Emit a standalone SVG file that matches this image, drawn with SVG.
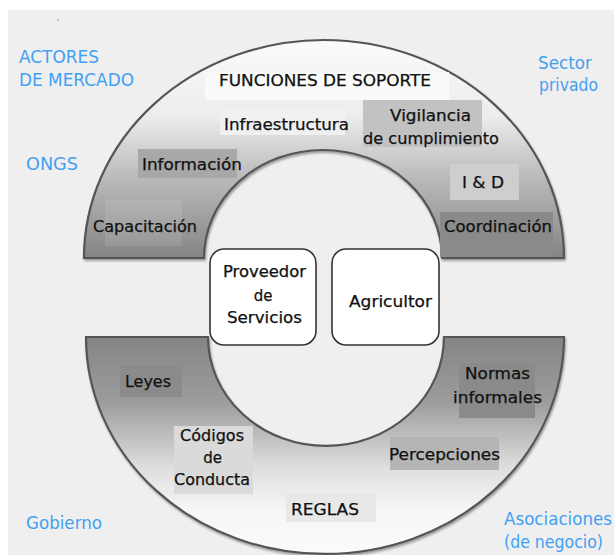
<svg xmlns="http://www.w3.org/2000/svg" width="614" height="555" viewBox="0 0 614 555">
<defs>
<linearGradient id="gTop" x1="0" y1="40" x2="0" y2="258" gradientUnits="userSpaceOnUse">
<stop offset="0" stop-color="#fbfbfb"/>
<stop offset="0.35" stop-color="#ececec"/>
<stop offset="0.62" stop-color="#bcbcbc"/>
<stop offset="1" stop-color="#848484"/>
</linearGradient>
<linearGradient id="gBot" x1="0" y1="337" x2="0" y2="554" gradientUnits="userSpaceOnUse">
<stop offset="0" stop-color="#858585"/>
<stop offset="0.3" stop-color="#9c9c9c"/>
<stop offset="0.6" stop-color="#dedede"/>
<stop offset="0.8" stop-color="#f6f6f6"/>
<stop offset="1" stop-color="#fbfbfb"/>
</linearGradient>
<filter id="sh" x="-10%" y="-10%" width="120%" height="120%">
<feDropShadow dx="1" dy="2" stdDeviation="1.2" flood-color="#000" flood-opacity="0.35"/>
</filter>
</defs>
<style>
.ring{stroke:#555;stroke-width:2.2;filter:url(#sh)}
.box{fill:#fff;stroke:#333;stroke-width:1.6}
.t{font-family:"DejaVu Sans","Liberation Sans",sans-serif;font-size:15px;fill:#111;stroke:#111;stroke-width:0.25;text-anchor:middle}
.b{font-family:"DejaVu Sans","Liberation Sans",sans-serif;font-size:17px;fill:#42a0f2}
</style>
<rect x="8" y="10" width="606" height="545" fill="#efefef"/>
<circle cx="58" cy="20" r="0.8" fill="#777"/>

<g id="funciones-soporte">
<path class="ring" fill="url(#gTop)" d="M 84 258 A 240 218 0 0 1 564 258 L 442 258 A 119 108 0 0 0 204 258 Z"/>
<rect x="205" y="72" width="244" height="28" fill="#fafafa"/>
<text class="t" x="325" y="86" textLength="212" lengthAdjust="spacingAndGlyphs">FUNCIONES DE SOPORTE</text>
</g>
<g id="infraestructura">
<rect x="220" y="108" width="125" height="27" fill="#f0f0f0"/>
<text class="t" x="286.5" y="130" textLength="125" lengthAdjust="spacingAndGlyphs">Infraestructura</text>
</g>
<g id="vigilancia">
<rect x="363" y="100" width="119" height="47" fill="#c2c2c2"/>
<text class="t" x="430.5" y="121" textLength="81" lengthAdjust="spacingAndGlyphs">Vigilancia</text>
<text class="t" x="431" y="144" textLength="136" lengthAdjust="spacingAndGlyphs">de cumplimiento</text>
</g>
<g id="informacion">
<rect x="138" y="149" width="99" height="29" fill="#a8a8a8"/>
<text class="t" x="192" y="170" textLength="100" lengthAdjust="spacingAndGlyphs">Información</text>
</g>
<g id="id">
<rect x="450" y="164" width="69" height="36" fill="#cecece"/>
<text class="t" x="483" y="188" textLength="42" lengthAdjust="spacingAndGlyphs">I &amp; D</text>
</g>
<g id="capacitacion">
<rect x="105" y="200" width="77" height="46" fill="#ffffff" fill-opacity="0.1"/>
<text class="t" x="145" y="232" textLength="104" lengthAdjust="spacingAndGlyphs">Capacitación</text>
</g>
<g id="coordinacion">
<rect x="440" y="212" width="113" height="45" fill="#8a8a8a"/>
<text class="t" x="498" y="232" textLength="108" lengthAdjust="spacingAndGlyphs">Coordinación</text>
</g>

<g id="reglas">
<path class="ring" fill="url(#gBot)" d="M 86 337 L 208 337 A 118 109 0 0 0 444 337 L 564 337 A 239 217 0 0 1 86 337 Z"/>
<rect x="286" y="493" width="90" height="29" fill="#e8e8e8"/>
<text class="t" x="325" y="515" textLength="68" lengthAdjust="spacingAndGlyphs">REGLAS</text>
</g>
<g id="leyes">
<rect x="120" y="365" width="62" height="32" fill="#8b8b8b"/>
<text class="t" x="148" y="387" textLength="46" lengthAdjust="spacingAndGlyphs">Leyes</text>
</g>
<g id="codigos">
<rect x="174" y="426" width="79" height="68" fill="#dadada"/>
<text class="t" x="212" y="441" textLength="64" lengthAdjust="spacingAndGlyphs">Códigos</text>
<text class="t" x="212.5" y="463">de</text>
<text class="t" x="212" y="485" textLength="76" lengthAdjust="spacingAndGlyphs">Conducta</text>
</g>
<g id="normas">
<rect x="459" y="363" width="76" height="55" fill="#8a8a8a"/>
<text class="t" x="497.5" y="379" textLength="65" lengthAdjust="spacingAndGlyphs">Normas</text>
<text class="t" x="497.5" y="403" textLength="89" lengthAdjust="spacingAndGlyphs">informales</text>
</g>
<g id="percepciones">
<rect x="390" y="437" width="109" height="33" fill="#b5b5b5"/>
<text class="t" x="444.5" y="460" textLength="111" lengthAdjust="spacingAndGlyphs">Percepciones</text>
</g>

<g id="proveedor">
<rect class="box" x="210" y="249" width="106" height="96" rx="14"/>
<text class="t" x="264.5" y="277" textLength="83" lengthAdjust="spacingAndGlyphs">Proveedor</text>
<text class="t" x="263" y="301">de</text>
<text class="t" x="264.5" y="323" textLength="75" lengthAdjust="spacingAndGlyphs">Servicios</text>
</g>
<g id="agricultor">
<rect class="box" x="332" y="249" width="107" height="96" rx="14"/>
<text class="t" x="390.5" y="307" textLength="83" lengthAdjust="spacingAndGlyphs">Agricultor</text>
</g>

<g id="actores">
<text class="b" x="19" y="63" textLength="80" lengthAdjust="spacingAndGlyphs">ACTORES</text>
<text class="b" x="19" y="86" textLength="115" lengthAdjust="spacingAndGlyphs">DE MERCADO</text>
</g>
<g id="ongs"><text class="b" x="26" y="170" textLength="52" lengthAdjust="spacingAndGlyphs">ONGS</text></g>
<g id="sector">
<text class="b" x="538" y="69" textLength="54" lengthAdjust="spacingAndGlyphs">Sector</text>
<text class="b" x="539" y="91" textLength="59" lengthAdjust="spacingAndGlyphs">privado</text>
</g>
<g id="gobierno"><text class="b" x="26" y="529" textLength="76" lengthAdjust="spacingAndGlyphs">Gobierno</text></g>
<g id="asociaciones">
<text class="b" x="504" y="525" textLength="108" lengthAdjust="spacingAndGlyphs">Asociaciones</text>
<text class="b" x="504" y="548" textLength="99" lengthAdjust="spacingAndGlyphs">(de negocio)</text>
</g>
<g id="connectors"/>
</svg>
